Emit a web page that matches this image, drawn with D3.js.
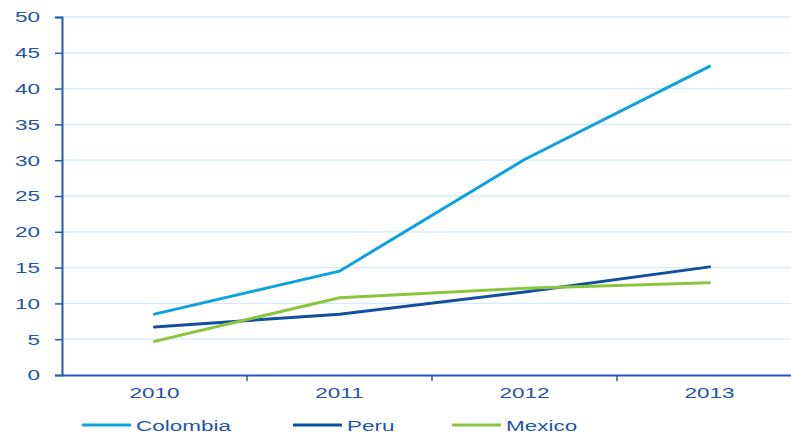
<!DOCTYPE html>
<html>
<head>
<meta charset="utf-8">
<script src="https://cdn.jsdelivr.net/npm/d3@7"></script>
<style>
  body { margin: 0; background: #fff; }
  text { font-family: "Liberation Sans", Arial, sans-serif; }
</style>
</head>
<body>
<div id="chart"></div>
<script>
// data
const years = ['2010', '2011', '2012', '2013'];
const colombia = [8.5, 14.5, 30.1, 43.1];
const peru = [6.7, 8.5, 11.6, 15.1];
const mexico = [4.7, 10.8, 12.1, 12.9];
const yTicks = [0, 5, 10, 15, 20, 25, 30, 35, 40, 45, 50];
const seriesNames = ['Colombia', 'Peru', 'Mexico'];
const seriesColors = ['#0ea1e2', '#12509f', '#8bc53f'];

const width = 791, height = 433;
const margin = { left: 62, right: 802, top: 17, bottom: 375 };
const axisColor = '#1f5bb7';
const textColor = '#1f55a8';
const stretch = 1.5; // the original font is drawn wide

const svg = d3.select('#chart').append('svg')
  .attr('width', width)
  .attr('height', height);

const x = d3.scaleBand().domain(years).range([margin.left, margin.right]);
const y = d3.scaleLinear().domain([0, 50]).range([margin.bottom, margin.top]);

// gridlines
svg.append('g')
  .selectAll('line')
  .data(yTicks.filter(d => d > 0))
  .enter()
  .append('line')
  .attr('x1', margin.left)
  .attr('x2', width)
  .attr('y1', d => y(d))
  .attr('y2', d => y(d))
  .style('stroke', '#d3ecf8')
  .style('stroke-width', 1.3);

// y axis
const yAxis = svg.append('g')
  .attr('transform', 'translate(' + margin.left + ',0)')
  .call(d3.axisLeft(y).tickValues(yTicks).tickSize(7));
yAxis.select('.domain').style('stroke', axisColor).style('stroke-width', 2);
yAxis.selectAll('.tick line').style('stroke', axisColor).style('stroke-width', 1.5);
yAxis.selectAll('.tick text')
  .attr('x', 0)
  .attr('transform', 'translate(-22,0) scale(' + stretch + ',1)')
  .style('font-size', '15px')
  .style('fill', textColor);

// x axis
const xAxis = svg.append('g')
  .attr('transform', 'translate(0,' + margin.bottom + ')')
  .call(d3.axisBottom(x).tickSize(0).tickPadding(12));
xAxis.select('.domain').style('stroke', axisColor).style('stroke-width', 2);
xAxis.selectAll('.tick text')
  .attr('transform', 'scale(' + stretch + ',1)')
  .style('font-size', '15px')
  .style('fill', textColor);

// tick marks at the band boundaries
svg.append('g')
  .selectAll('line')
  .data(years.slice(1))
  .enter()
  .append('line')
  .attr('x1', d => x(d))
  .attr('x2', d => x(d))
  .attr('y1', margin.bottom)
  .attr('y2', margin.bottom + 6)
  .style('stroke', axisColor)
  .style('stroke-width', 1.5);

const line = d3.line()
  .x((d, i) => x(years[i]) + x.bandwidth() / 2)
  .y(d => y(d));

[colombia, peru, mexico].forEach((values, i) => {
  svg.append('path')
    .datum(values)
    .attr('d', line)
    .style('fill', 'none')
    .style('stroke', seriesColors[i])
    .style('stroke-width', 3)
    .style('stroke-linecap', 'round');
});

// legend
const legendX = [82, 293, 452];
const legend = svg.append('g');
seriesNames.forEach((name, i) => {
  legend.append('line')
    .attr('x1', legendX[i])
    .attr('x2', legendX[i] + 49)
    .attr('y1', 425)
    .attr('y2', 425)
    .style('stroke', seriesColors[i])
    .style('stroke-width', 3);
  legend.append('text')
    .attr('transform', 'translate(' + (legendX[i] + 54) + ',431) scale(1.45,1)')
    .text(name)
    .style('font-size', '15.5px')
    .style('fill', textColor);
});
</script>
</body>
</html>
